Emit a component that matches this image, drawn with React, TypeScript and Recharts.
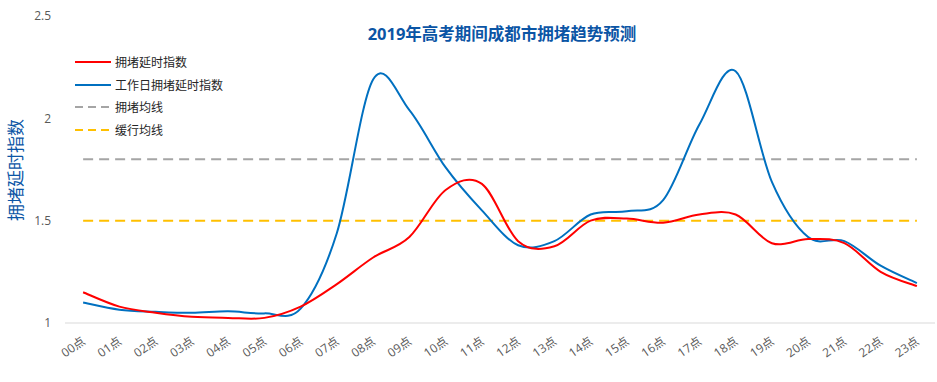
import React from "react";
import { LineChart, Line, XAxis, YAxis } from "recharts";

const hours = [
  "00点", "01点", "02点", "03点", "04点", "05点", "06点", "07点",
  "08点", "09点", "10点", "11点", "12点", "13点", "14点", "15点",
  "16点", "17点", "18点", "19点", "20点", "21点", "22点", "23点",
];
const congestion = [
  1.15, 1.08, 1.05, 1.03, 1.025, 1.025, 1.08, 1.19, 1.32, 1.42, 1.65, 1.68,
  1.4, 1.375, 1.5, 1.51, 1.49, 1.53, 1.53, 1.39, 1.41, 1.39, 1.25, 1.18,
];
const workdayCongestion = [
  1.1, 1.065, 1.055, 1.05, 1.057, 1.047, 1.07, 1.44, 2.19, 2.04, 1.76, 1.55,
  1.38, 1.4, 1.53, 1.546, 1.6, 1.97, 2.23, 1.69, 1.42, 1.4, 1.28, 1.195,
];
const congestedAvg = 1.8;
const slowAvg = 1.5;
const yTicks = [1, 1.5, 2, 2.5];

const data = hours.map((h, i) => ({
  name: h,
  congestion: congestion[i],
  workday: workdayCongestion[i],
  congestedAvg,
  slowAvg,
}));

const FONT = '"Open Sans", "Noto Sans CJK SC", sans-serif';

// Excel-style smoothed line (Catmull-Rom as cubic bezier)
const excelSmooth: any = (context: any) => {
  let pts: number[][] = [];
  return {
    areaStart() {},
    areaEnd() {},
    lineStart() {
      pts = [];
    },
    point(x: number, y: number) {
      pts.push([+x, +y]);
    },
    lineEnd() {
      const n = pts.length;
      if (!n) return;
      context.moveTo(pts[0][0], pts[0][1]);
      for (let i = 0; i < n - 1; i++) {
        const p0 = pts[Math.max(i - 1, 0)];
        const p1 = pts[i];
        const p2 = pts[i + 1];
        const p3 = pts[Math.min(i + 2, n - 1)];
        context.bezierCurveTo(
          p1[0] + (p2[0] - p0[0]) / 6,
          p1[1] + (p2[1] - p0[1]) / 6,
          p2[0] - (p3[0] - p1[0]) / 6,
          p2[1] - (p3[1] - p1[1]) / 6,
          p2[0],
          p2[1]
        );
      }
    },
  };
};

const XTick = ({ x, y, payload }: any) => (
  <text
    x={x + 3}
    y={y + 12}
    transform={`rotate(-35 ${x + 3} ${y + 12})`}
    textAnchor="end"
    fill="#595959"
    fontSize={12}
    fontFamily={FONT}
  >
    {payload.value}
  </text>
);

const legendItems = [
  { label: "拥堵延时指数", color: "#FF0000", dash: undefined },
  { label: "工作日拥堵延时指数", color: "#0070C0", dash: undefined },
  { label: "拥堵均线", color: "#A5A5A5", dash: "8 5" },
  { label: "缓行均线", color: "#FFC000", dash: "8 5" },
];

const LegendBox = () => (
  <div
    style={{
      position: "absolute",
      left: 75,
      top: 51,
      fontFamily: FONT,
      fontSize: 12,
      color: "#262626",
      zIndex: 2,
    }}
  >
    {legendItems.map((it) => (
      <div
        key={it.label}
        style={{ display: "flex", alignItems: "center", height: 22.5 }}
      >
        <svg width={36} height={4} style={{ marginRight: 4 }}>
          <line
            x1={0}
            y1={2}
            x2={36}
            y2={2}
            stroke={it.color}
            strokeWidth={2}
            strokeDasharray={it.dash}
          />
        </svg>
        <span>{it.label}</span>
      </div>
    ))}
  </div>
);

export default function App() {
  return (
    <div
      style={{
        position: "absolute",
        left: 0,
        top: 0,
        width: 937,
        height: 382,
        background: "#fff",
      }}
    >
      <div
        style={{
          position: "absolute",
          left: 0,
          width: 1004,
          top: 21,
          textAlign: "center",
          fontFamily: FONT,
          fontWeight: "bold",
          fontSize: 16.5,
          color: "#0B55A5",
          zIndex: 2,
        }}
      >
        2019年高考期间成都市拥堵趋势预测
      </div>
      <div
        style={{
          position: "absolute",
          left: 14,
          top: 170,
          transform: "translate(-50%, -50%) rotate(-90deg)",
          fontFamily: FONT,
          fontSize: 17,
          color: "#0B55A5",
          whiteSpace: "nowrap",
          zIndex: 2,
        }}
      >
        拥堵延时指数
      </div>
      <LegendBox />
      <LineChart
        width={937}
        height={382}
        data={data}
        margin={{ top: 16, right: 2, left: 0, bottom: 9 }}
      >
        <XAxis
          dataKey="name"
          scale="band"
          height={50}
          tickLine={false}
          axisLine={{ stroke: "#D9D9D9", strokeWidth: 1 }}
          tick={<XTick />}
          interval={0}
        />
        <YAxis
          width={65}
          domain={[1, 2.5]}
          ticks={yTicks}
          axisLine={false}
          tickLine={false}
          tickMargin={8}
          tick={{ fill: "#595959", fontSize: 12, fontFamily: FONT }}
        />
        <Line
          dataKey="congestedAvg"
          stroke="#A5A5A5"
          strokeWidth={2}
          strokeDasharray="10 6"
          dot={false}
          type="linear"
          isAnimationActive={false}
        />
        <Line
          dataKey="slowAvg"
          stroke="#FFC000"
          strokeWidth={2}
          strokeDasharray="10 6"
          dot={false}
          type="linear"
          isAnimationActive={false}
        />
        <Line
          dataKey="workday"
          stroke="#0070C0"
          strokeWidth={2}
          dot={false}
          type={excelSmooth}
          isAnimationActive={false}
        />
        <Line
          dataKey="congestion"
          stroke="#FF0000"
          strokeWidth={2}
          dot={false}
          type={excelSmooth}
          isAnimationActive={false}
        />
      </LineChart>
    </div>
  );
}
